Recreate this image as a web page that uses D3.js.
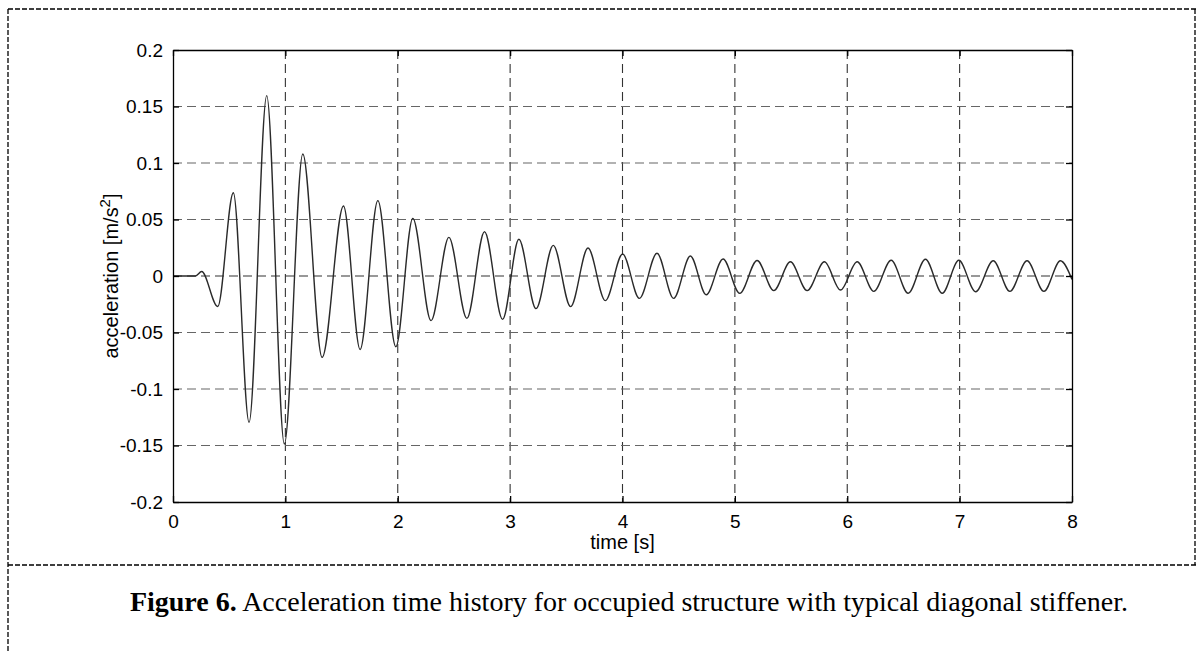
<!DOCTYPE html>
<html>
<head>
<meta charset="utf-8">
<script src="https://cdn.jsdelivr.net/npm/d3@7"></script>
<style>
  html, body { margin: 0; padding: 0; background: #fff; }
  svg { display: block; }
</style>
</head>
<body>
<div id="chartContainer"></div>
<script>
// peaks and troughs (time in s, acceleration in m/s^2)
const times = [
    0, 0.2, 0.255, 0.398, 0.537, 0.677, 0.834, 0.991, 1.155, 1.327,
    1.517, 1.665, 1.823, 1.983, 2.134, 2.296, 2.455, 2.615, 2.772, 2.933,
    3.078, 3.23, 3.384, 3.538, 3.693, 3.847, 4.001, 4.15, 4.307, 4.455,
    4.604, 4.745, 4.895, 5.043, 5.198, 5.346, 5.494, 5.643, 5.797, 5.94,
    6.088, 6.236, 6.391, 6.542, 6.696, 6.845, 6.993, 7.142, 7.299, 7.447,
    7.6, 7.75, 7.897, 8.0
];
const accel = [
    0, 0, 0.004, -0.027, 0.0737, -0.1295, 0.1596, -0.1487, 0.108, -0.072,
    0.062, -0.065, 0.0667, -0.0626, 0.051, -0.0395, 0.0342, -0.0375, 0.0392, -0.0384,
    0.0325, -0.0289, 0.0271, -0.0271, 0.0248, -0.0218, 0.0195, -0.0198, 0.0201, -0.0198,
    0.0177, -0.0166, 0.015, -0.0153, 0.0137, -0.0129, 0.0126, -0.0129, 0.0126, -0.0124,
    0.0126, -0.0136, 0.0139, -0.0153, 0.0148, -0.0153, 0.0139, -0.0139, 0.0135, -0.0136,
    0.0135, -0.0136, 0.0135, -0.003
];
const xTicks = [0, 1, 2, 3, 4, 5, 6, 7, 8];
const yTicks = [-0.2, -0.15, -0.1, -0.05, 0, 0.05, 0.1, 0.15, 0.2];
const yTickLabels = ['-0.2', '-0.15', '-0.1', '-0.05', '0', '0.05', '0.1', '0.15', '0.2'];

const data = times.map((t, i) => ({ t: t, v: accel[i] }));

const width = 1196;
const height = 651;
const margin = { top: 50, right: 124, bottom: 149, left: 173 };

const svg = d3.select('#chartContainer')
    .append('svg')
    .attr('width', width)
    .attr('height', height)
    .style('font-family', '"Liberation Sans", Arial, sans-serif');

// figure frame (dashed)
const frame = svg.append('g')
    .attr('fill', 'none')
    .attr('stroke', '#000')
    .attr('stroke-width', 1.3)
    .attr('stroke-dasharray', '5,2');
frame.append('line').attr('x1', 8).attr('y1', 9).attr('x2', width).attr('y2', 9);
frame.append('line').attr('x1', 8).attr('y1', 9).attr('x2', 8).attr('y2', height);
frame.append('line').attr('x1', 8).attr('y1', 565).attr('x2', width).attr('y2', 565);
frame.append('line').attr('x1', width - 1).attr('y1', 9).attr('x2', width - 1).attr('y2', 565);

const scaleX = d3.scaleLinear()
    .domain([0, 8])
    .range([margin.left, width - margin.right]);

const scaleY = d3.scaleLinear()
    .domain([-0.2, 0.2])
    .range([height - margin.bottom, margin.top]);

const x0 = scaleX(0), x1 = scaleX(8);
const y0 = scaleY(-0.2), y1 = scaleY(0.2);

// grid
const grid = svg.append('g')
    .attr('stroke-width', 1.1)
    .attr('stroke-dasharray', '9,5');

grid.selectAll('line.gx')
    .data(xTicks.slice(1, -1))
    .enter()
    .append('line')
    .attr('class', 'gx')
    .attr('stroke', '#333')
    .attr('x1', d => scaleX(d)).attr('x2', d => scaleX(d))
    .attr('y1', y1).attr('y2', y0);

grid.selectAll('line.gy')
    .data(yTicks.slice(1, -1))
    .enter()
    .append('line')
    .attr('class', 'gy')
    .attr('stroke', d => d === 0 ? '#333' : '#666')
    .attr('x1', x0).attr('x2', x1)
    .attr('y1', d => scaleY(d)).attr('y2', d => scaleY(d));

// signal
const lineMaker = d3.line()
    .x(d => scaleX(d.t))
    .y(d => scaleY(d.v))
    .curve(d3.curveMonotoneX);

svg.append('path')
    .attr('d', lineMaker(data))
    .attr('fill', 'none')
    .attr('stroke', '#2a2a2a')
    .attr('stroke-width', 1.4);

// axes: MATLAB style box with inward ticks
const tickLen = 6;

const xAxisGen = d3.axisBottom(scaleX)
    .tickValues(xTicks)
    .tickSizeInner(-tickLen)
    .tickSizeOuter(0)
    .tickPadding(13)
    .tickFormat(d3.format('d'));

svg.append('g')
    .attr('transform', `translate(0, ${y0})`)
    .call(xAxisGen);

const xTopGen = d3.axisTop(scaleX)
    .tickValues(xTicks)
    .tickSizeInner(-tickLen)
    .tickSizeOuter(0)
    .tickFormat('');

svg.append('g')
    .attr('transform', `translate(0, ${y1})`)
    .call(xTopGen);

const yAxisGen = d3.axisLeft(scaleY)
    .tickValues(yTicks)
    .tickSizeInner(-tickLen)
    .tickSizeOuter(0)
    .tickPadding(10)
    .tickFormat((d, i) => yTickLabels[i]);

svg.append('g')
    .attr('transform', `translate(${x0}, 0)`)
    .call(yAxisGen);

const yRightGen = d3.axisRight(scaleY)
    .tickValues(yTicks)
    .tickSizeInner(-tickLen)
    .tickSizeOuter(0)
    .tickFormat('');

svg.append('g')
    .attr('transform', `translate(${x1}, 0)`)
    .call(yRightGen);

svg.selectAll('.domain, .tick line')
    .attr('stroke', '#000')
    .attr('stroke-width', 1.3);

svg.selectAll('.tick text')
    .attr('fill', '#000')
    .style('font-size', '19px')
    .style('font-family', '"Liberation Sans", Arial, sans-serif');

// axis labels
svg.append('text')
    .attr('x', (x0 + x1) / 2)
    .attr('y', 549)
    .attr('text-anchor', 'middle')
    .style('font-size', '20px')
    .text('time [s]');

const yLabel = svg.append('text')
    .attr('transform', `translate(118, ${(y0 + y1) / 2}) rotate(-90)`)
    .attr('text-anchor', 'middle')
    .style('font-size', '20px');
yLabel.append('tspan').text('acceleration [m/s');
yLabel.append('tspan').attr('dy', -8).style('font-size', '15px').text('2');
yLabel.append('tspan').attr('dy', 8).text(']');

// caption
const caption = svg.append('text')
    .attr('x', 1128)
    .attr('y', 611)
    .attr('text-anchor', 'end')
    .style('font-family', '"Liberation Serif", "Times New Roman", serif')
    .style('font-size', '28px');
caption.append('tspan').style('font-weight', 'bold').text('Figure 6.');
caption.append('tspan').text(' Acceleration time history for occupied structure with typical diagonal stiffener.');
</script>
</body>
</html>
